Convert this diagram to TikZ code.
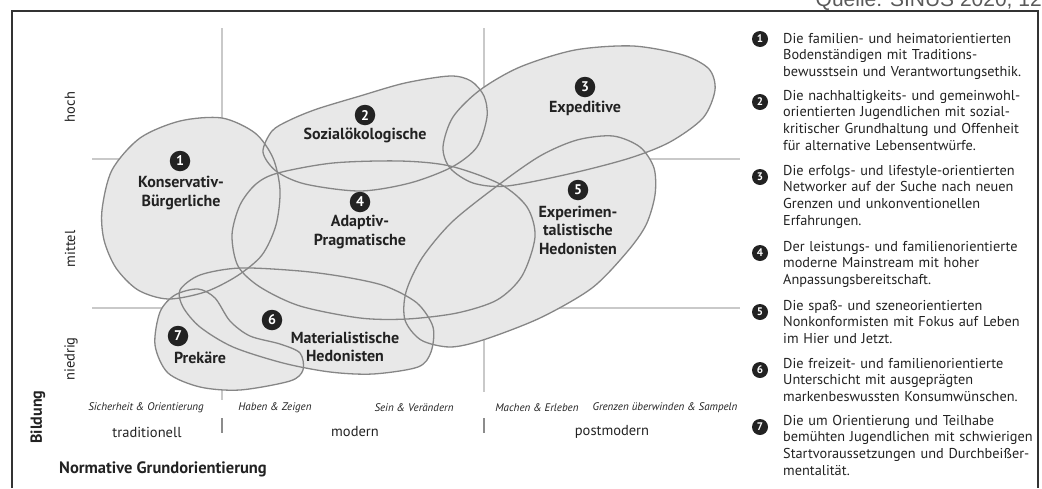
\documentclass[tikz,border=0pt]{standalone}
\usepackage{fontspec}
\setmainfont{PT Sans}
\newfontfamily\quellefont{Liberation Sans}

\definecolor{milieufill}{HTML}{E8E8E8}
\definecolor{milieuline}{HTML}{868686}
\definecolor{gridline}{HTML}{C9C9C9}
\definecolor{rahmen}{HTML}{333333}
\definecolor{schrift}{HTML}{222222}

% Umrisse der Milieus (Koordinaten in pt, y nach unten)
\newcommand{\milieuKB}{plot[smooth cycle] coordinates {(222,118) (255,133) (273,158) (280,190) (276,225) (262,255) (237,276) (205,292) (168,299) (138,290) (116,268) (104,240) (102,210) (112,170) (140,138) (180,121)}}
\newcommand{\milieuSOK}{plot[smooth cycle] coordinates {(263,152) (272,131) (290,120) (317,109) (360,96) (405,83) (450,76) (471,81) (484,96) (487,117) (477,147) (452,167) (410,183) (360,191) (305,184) (276,171)}}
\newcommand{\milieuEPE}{plot[smooth cycle] coordinates {(633,46) (683,55) (709,69) (715,90) (703,118) (670,142) (630,158) (573,173) (507,186) (473,183) (450,168) (443,147) (453,117) (480,90) (520,67) (575,50)}}
\newcommand{\milieuPRA}{plot[smooth cycle] coordinates {(278,173) (333,163) (400,161) (450,166) (500,184) (527,207) (535,237) (522,276) (497,300) (457,313) (407,319) (360,318) (300,306) (260,287) (238,266) (232,235) (240,205) (256,184)}}
\newcommand{\milieuEXP}{plot[smooth cycle] coordinates {(613,136) (640,147) (654,168) (655,195) (646,225) (627,252) (592,288) (540,318) (483,340) (450,347) (421,340) (405,320) (406,292) (422,258) (452,222) (497,186) (540,156) (577,140)}}
\newcommand{\milieuMAT}{plot[smooth cycle] coordinates {(180,290) (200,275) (240,268) (300,271) (345,277) (385,286) (417,303) (433,327) (431,352) (418,367) (373,374) (330,372) (283,363) (233,347) (200,327) (183,307)}}
\newcommand{\milieuPRE}{plot[smooth cycle] coordinates {(160,312) (175,295) (198,289) (215,298) (230,321) (250,336) (280,344) (300,353) (303,370) (290,381) (240,390) (200,387) (168,373) (155,345)}}

\begin{document}
\begin{tikzpicture}[x=1pt, y=-1pt,
  milieu/.style={fill=milieufill},
  umriss/.style={draw=milieuline, line width=1.3pt},
  raster/.style={draw=gridline, line width=1.2pt},
  nummer/.style={circle, fill=schrift, text=white, inner sep=0pt, minimum size=20.5pt, font=\bfseries\fontsize{14}{14}\selectfont},
  legnummer/.style={circle, fill=schrift, text=white, inner sep=0pt, minimum size=16pt, font=\bfseries\fontsize{11}{11}\selectfont},
  milieuname/.style={align=center, text=schrift, inner sep=0pt, font=\bfseries\fontsize{16}{18.5}\selectfont},
  achse/.style={text=schrift, inner sep=0pt, font=\fontsize{14.5}{14.5}\selectfont},
  wert/.style={text=schrift, inner sep=0pt, font=\itshape\fontsize{11}{11}\selectfont},
  legende/.style={anchor=base west, text width=262pt, align=left, text=schrift, inner sep=0pt, font=\fontsize{14.3}{16.8}\selectfont}]
\useasboundingbox (0,0) rectangle (1042,488);

% Rahmen und Quelle
\node[anchor=base east, inner sep=0pt, text=black!65, font=\quellefont\fontsize{21}{21}\selectfont] (quelle) at (1042,6) {Quelle: SINUS 2020, 12};
\draw[rahmen, line width=1.3pt] (12,488) -- (12,11) -- (1038,11) -- (1038,488);

% Raster
\draw[raster] (222,28) -- (222,400);
\draw[raster] (484,28) -- (484,392);
\draw[raster] (92,159) -- (740,159);
\draw[raster] (92,308) -- (740,308);
\draw[draw=black!45, line width=1.2pt] (222,418) -- (222,433);
\draw[draw=black!45, line width=1.2pt] (484,418) -- (484,433);

% Flaechen, dann Umrisse
\foreach \m in {\milieuKB,\milieuSOK,\milieuEPE,\milieuPRA,\milieuEXP,\milieuMAT,\milieuPRE}
  \fill[milieu] \m;
\foreach \m in {\milieuKB,\milieuSOK,\milieuEPE,\milieuPRA,\milieuEXP,\milieuMAT,\milieuPRE}
  \draw[umriss] \m;

% Milieu-Beschriftungen
\node[nummer] (n1) at (180,161) {1};
\node[milieuname] (KB) at (181,193) {Konservativ-\\Bürgerliche};
\node[nummer] (n2) at (365,115) {2};
\node[milieuname] (SOK) at (365,135) {Sozialökologische};
\node[nummer] (n3) at (585,87) {3};
\node[milieuname] (EPE) at (585,108) {Expeditive};
\node[nummer] (n4) at (360,202) {4};
\node[milieuname] (PRA) at (360,232) {Adaptiv-\\Pragmatische};
\node[nummer] (n5) at (578,190) {5};
\node[milieuname] (EXP) at (578,230) {Experimen-\\talistische\\Hedonisten};
\node[nummer] (n6) at (272,320) {6};
\node[milieuname] (MAT) at (345,347) {Materialistische\\Hedonisten};
\node[nummer] (n7) at (178,336) {7};
\node[milieuname] (PRE) at (200,358) {Prekäre};

% Achsen
\node[achse, rotate=90] (hoch) at (70,107) {hoch};
\node[achse, rotate=90] (mittel) at (70,249) {mittel};
\node[achse, rotate=90] (niedrig) at (71,359) {niedrig};
\node[achse, rotate=90, font=\bfseries\fontsize{16}{16}\selectfont] (bildung) at (38,417) {Bildung};
\node[achse, anchor=west, font=\bfseries\fontsize{16.5}{16.5}\selectfont] (grundorientierung) at (59,469) {Normative Grundorientierung};

\node[wert] (w1) at (146,408) {Sicherheit \& Orientierung};
\node[wert] (w2) at (275,408) {Haben \& Zeigen};
\node[wert] (w3) at (414,408) {Sein \& Verändern};
\node[wert] (w4) at (537,408) {Machen \& Erleben};
\node[wert] (w5) at (665,408) {Grenzen überwinden \& Sampeln};
\node[achse] (trad) at (147,432) {traditionell};
\node[achse] (mod) at (355,432) {modern};
\node[achse] (post) at (612,432) {postmodern};

% Legende
\node[legnummer] (l1) at (760,39) {1};
\node[legende] (t1) at (783,43) {Die familien- und heimatorientierten\\Bodenständigen mit Traditions-\\bewusstsein und Verantwortungsethik.};
\node[legnummer] (l2) at (760,102) {2};
\node[legende] (t2) at (783,100) {Die nachhaltigkeits- und gemeinwohl-\\orientierten Jugendlichen mit sozial-\\kritischer Grundhaltung und Offenheit\\für alternative Lebensentwürfe.};
\node[legnummer] (l3) at (760,177) {3};
\node[legende] (t3) at (783,175) {Die erfolgs- und lifestyle-orientierten\\Networker auf der Suche nach neuen\\Grenzen und unkonventionellen\\Erfahrungen.};
\node[legnummer] (l4) at (760,253) {4};
\node[legende] (t4) at (783,251) {Der leistungs- und familienorientierte\\moderne Mainstream mit hoher\\Anpassungsbereitschaft.};
\node[legnummer] (l5) at (760,312) {5};
\node[legende] (t5) at (783,310) {Die spaß- und szeneorientierten\\Nonkonformisten mit Fokus auf Leben\\im Hier und Jetzt.};
\node[legnummer] (l6) at (760,370) {6};
\node[legende] (t6) at (783,368) {Die freizeit- und familienorientierte\\Unterschicht mit ausgeprägten\\markenbeswussten Konsumwünschen.};
\node[legnummer] (l7) at (760,427) {7};
\node[legende] (t7) at (783,425) {Die um Orientierung und Teilhabe\\bemühten Jugendlichen mit schwierigen\\Startvoraussetzungen und Durchbeißer-\\mentalität.};
\end{tikzpicture}
\end{document}
